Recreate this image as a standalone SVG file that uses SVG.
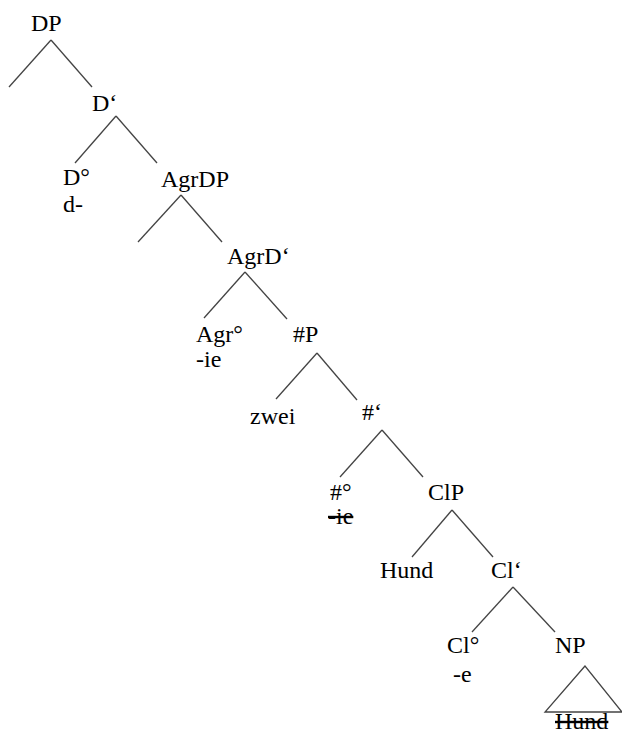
<svg xmlns="http://www.w3.org/2000/svg" width="622" height="734" viewBox="0 0 622 734" font-family="'Liberation Serif', 'Times New Roman', 'DejaVu Serif', serif">
<style>
text{font-family:'Liberation Serif','Times New Roman','DejaVu Serif',serif;font-size:24px;fill:#000}
.e line,.e polygon{stroke:#444;stroke-width:1.3;fill:none}
.s{text-decoration:line-through}
</style>
<rect width="622" height="734" fill="#fff"/>
<g class="e" id="connectors">
<line x1="51" y1="40" x2="9" y2="87"/><line x1="51" y1="40" x2="92" y2="87"/>
<line x1="116" y1="116" x2="75" y2="163"/><line x1="116" y1="116" x2="157" y2="163"/>
<line x1="181" y1="195" x2="138" y2="242"/><line x1="181" y1="195" x2="222" y2="242"/>
<line x1="245" y1="272" x2="204" y2="318"/><line x1="245" y1="272" x2="287" y2="319"/>
<line x1="317" y1="353" x2="276" y2="399"/><line x1="317" y1="353" x2="357" y2="400"/>
<line x1="382" y1="430" x2="340" y2="477"/><line x1="382" y1="430" x2="423" y2="477"/>
<line x1="452" y1="510" x2="412" y2="557"/><line x1="452" y1="510" x2="493" y2="557"/>
<line x1="513" y1="587" x2="472" y2="632"/><line x1="513" y1="587" x2="555" y2="632"/>
<polygon points="585,666 545,712 622,712"/>
</g>
<g id="DP"><text x="31" y="31">DP</text></g>
<g id="D1"><text x="92" y="111">D‘</text></g>
<g id="D0"><text x="63" y="185">D°</text><text x="63" y="212">d-</text></g>
<g id="AgrDP"><text x="161" y="187">AgrDP</text></g>
<g id="AgrD1"><text x="227" y="264">AgrD‘</text></g>
<g id="Agr0"><text x="196" y="342">Agr°</text><text x="196" y="367">-ie</text></g>
<g id="NumP"><text x="293" y="342">#P</text></g>
<g id="zwei"><text x="250" y="424">zwei</text></g>
<g id="Num1"><text x="362" y="420">#‘</text></g>
<g id="Num0"><text x="330" y="500">#°</text><text x="328" y="524" class="s">-ie</text></g>
<g id="ClP"><text x="428" y="500">ClP</text></g>
<g id="Hund"><text x="380" y="578">Hund</text></g>
<g id="Cl1"><text x="491" y="578">Cl‘</text></g>
<g id="Cl0"><text x="447" y="653">Cl°</text><text x="453" y="682">-e</text></g>
<g id="NP"><text x="555" y="653">NP</text></g>
<g id="Hund2"><text x="555" y="729" class="s">Hund</text></g>
</svg>
